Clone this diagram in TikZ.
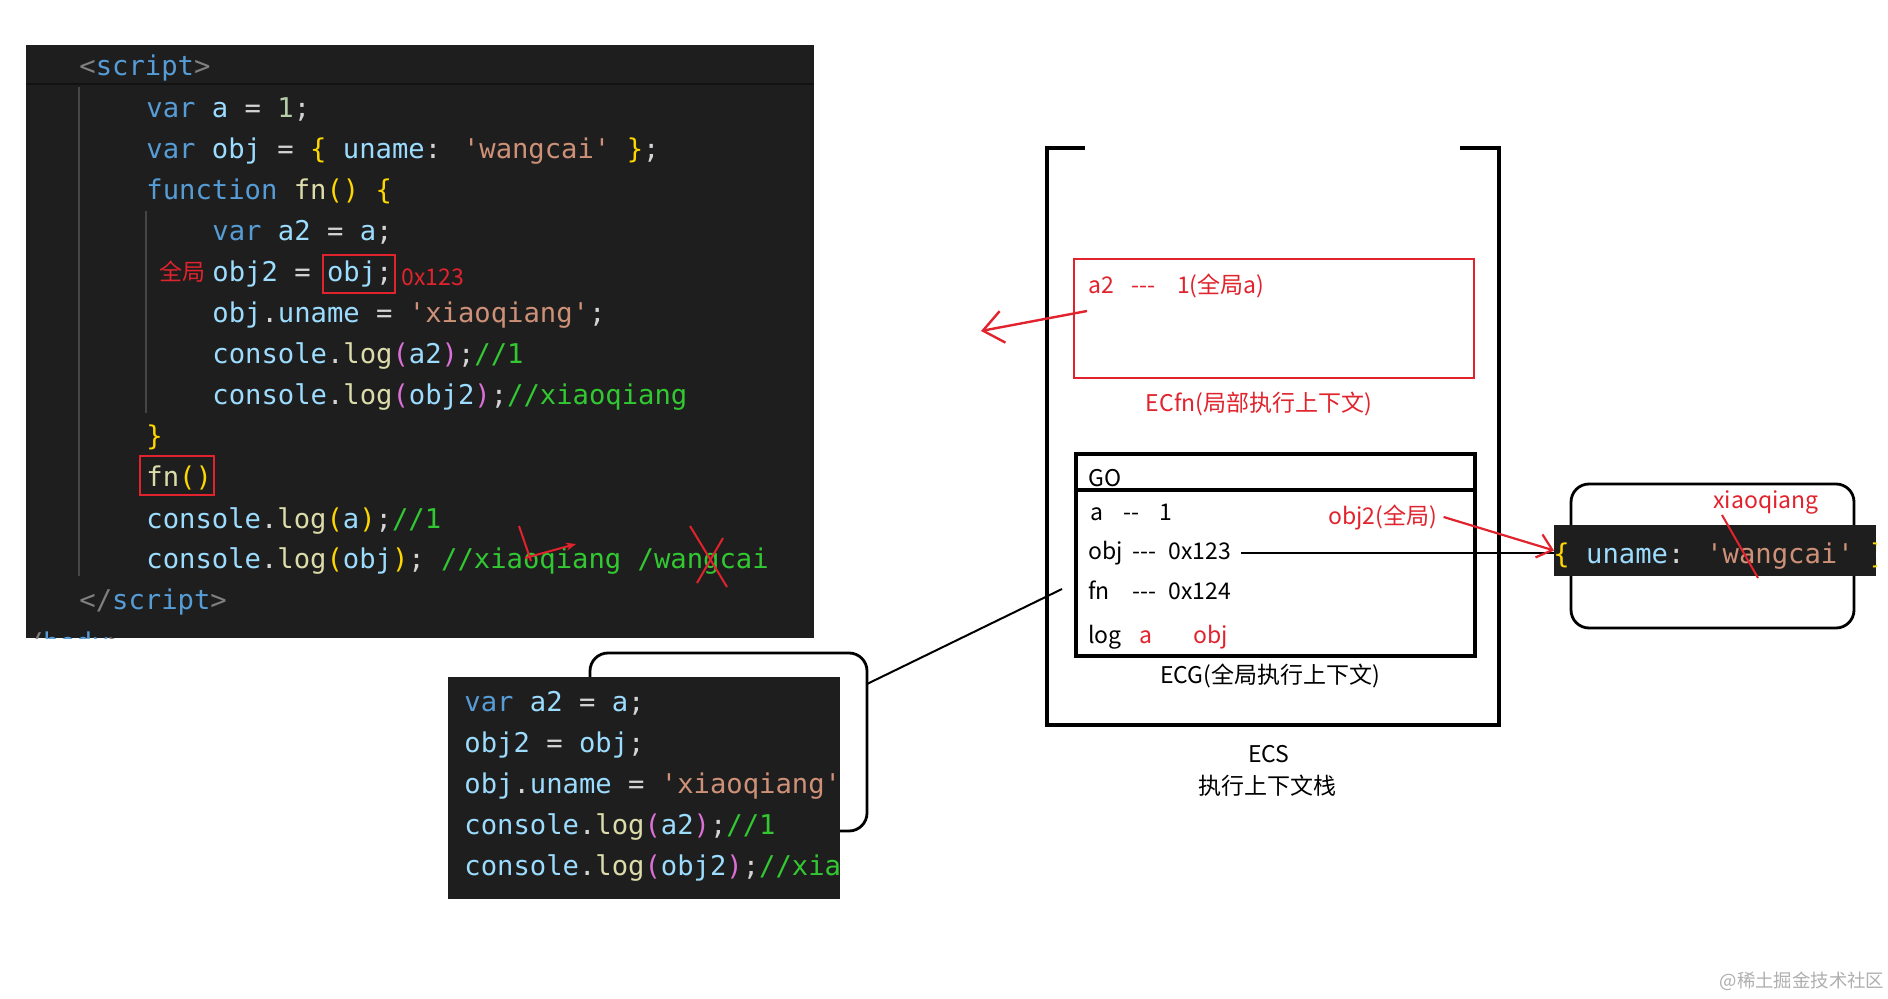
\documentclass[tikz,border=0pt]{standalone}
\usepackage{fontspec}
\usepackage{xcolor}
\usepackage{tikz}
\usetikzlibrary{arrows.meta,calc}
\newfontfamily\codefont{DejaVu Sans Mono}[Ligatures=TeXOff]
\newfontfamily\cjkfont{Noto Sans CJK SC}[Ligatures=TeXOff]
\definecolor{codebg}{RGB}{30,30,30}
\definecolor{codeline}{RGB}{18,18,18}
\definecolor{codetxt}{RGB}{212,212,212}
\definecolor{codekw}{RGB}{86,156,214}
\definecolor{codeid}{RGB}{156,220,254}
\definecolor{codestr}{RGB}{206,145,120}
\definecolor{codenum}{RGB}{181,206,168}
\definecolor{codefn}{RGB}{220,220,170}
\definecolor{codebr}{RGB}{255,215,0}
\definecolor{codepar}{RGB}{218,112,214}
\definecolor{codecmt}{RGB}{50,200,50}
\definecolor{codetag}{RGB}{128,128,128}
\definecolor{guide}{RGB}{70,70,70}
\definecolor{annot}{RGB}{225,35,45}
\definecolor{wmark}{RGB}{175,175,175}
\newcommand{\ckw}[1]{\textcolor{codekw}{#1}}
\newcommand{\cid}[1]{\textcolor{codeid}{#1}}
\newcommand{\cstr}[1]{\textcolor{codestr}{#1}}
\newcommand{\cnum}[1]{\textcolor{codenum}{#1}}
\newcommand{\cfn}[1]{\textcolor{codefn}{#1}}
\newcommand{\cbr}[1]{\textcolor{codebr}{#1}}
\newcommand{\cpar}[1]{\textcolor{codepar}{#1}}
\newcommand{\ccmt}[1]{\textcolor{codecmt}{#1}}
\newcommand{\ctag}[1]{\textcolor{codetag}{#1}}

\begin{document}
\begin{tikzpicture}[x=0.5pt,y=-0.5pt,
  code/.style={anchor=base west, inner sep=0pt, text=codetxt,
               font=\codefont\fontsize{13.6pt}{16pt}\selectfont},
  lbl/.style={inner sep=0pt, font=\cjkfont\fontsize{11.5pt}{14pt}\selectfont},
  redlbl/.style={lbl, text=annot},
  redbox/.style={draw=annot, line width=1.4pt, inner sep=0pt},
  frame/.style={line width=1.6pt},
  roundbox/.style={draw, line width=1.4pt, rounded corners=9pt, inner sep=0pt},
  redptr/.style={annot, line width=1.2pt, -{Straight Barb[length=10pt,width=16pt]}},
  smallptr/.style={annot, line width=1.1pt, -{Straight Barb[length=7pt,width=12pt]}},
  strike/.style={annot, line width=1pt}
]
\fill[white] (0,0) rectangle (1888,999);
\useasboundingbox (0,0) rectangle (1888,999);

% ---- main code block ----
\fill[codebg] (26,45) rectangle (814,638);
\draw[codeline, line width=1.2pt] (26,84) -- (814,84);
\draw[guide, line width=1pt] (79,87) -- (79,576);
\draw[guide, line width=1pt] (146,211) -- (146,413);

\node[code] (c1)  at (79,76)   {\ctag{<}\ckw{script}\ctag{>}};
\node[code] (c2)  at (146,118) {\ckw{var} \cid{a} = \cnum{1};};
\node[code] (c3)  at (146,159) {\ckw{var} \cid{obj} = \cbr{\{} \cid{uname}: \cstr{'wangcai'} \cbr{\}};};
\node[code] (c4)  at (146,200) {\ckw{function} \cfn{fn}\cbr{()} \cbr{\{}};
\node[code] (c5)  at (212,241) {\ckw{var} \cid{a2} = \cid{a};};
\node[code] (c6)  at (212,282) {\cid{obj2} = \cid{obj};};
\node[code] (c7)  at (212,323) {\cid{obj}.\cid{uname} = \cstr{'xiaoqiang'};};
\node[code] (c8)  at (212,364) {\cid{console}.\cfn{log}\cpar{(}\cid{a2}\cpar{)};\ccmt{//1}};
\node[code] (c9)  at (212,405) {\cid{console}.\cfn{log}\cpar{(}\cid{obj2}\cpar{)};\ccmt{//xiaoqiang}};
\node[code] (c10) at (146,446) {\cbr{\}}};
\node[code] (c11) at (146,487) {\cfn{fn}\cbr{()}};
\node[code] (c12) at (146,528) {\cid{console}.\cfn{log}\cbr{(}\cid{a}\cbr{)};\ccmt{//1}};
\node[code] (c13) at (146,568) {\cid{console}.\cfn{log}\cbr{(}\cid{obj}\cbr{)}; \ccmt{//xiaoqiang /wangcai}};
\node[code] (c14) at (79,609)  {\ctag{</}\ckw{script}\ctag{>}};
\begin{scope}
  \clip (26,45) rectangle (814,638);
  \node[code] (c15) at (10,652) {\ctag{</}\ckw{body}\ctag{>}};
\end{scope}

% ---- red marks on the code ----
\node[redlbl] (glob) at (182,272) {全局};
\node[redbox, minimum width=36pt, minimum height=19pt] (objref) at (359,274) {};
\node[redlbl, anchor=base west] (addr) at (401,286) {0x123};
\node[redbox, minimum width=37pt, minimum height=19.5pt] (fncall) at (177,475.5) {};
\draw[strike] (519,526) -- (531,561);
\draw[strike, -{Stealth[length=5pt,width=4pt]}] (525,558) -- (576,544);
\draw[strike] (690,526) -- (727,587);
\draw[strike] (723,538) -- (697,583);

% ---- fn body block ----
\node[roundbox, minimum width=138.5pt, minimum height=89pt] (fnctx) at (728.5,742) {};
\fill[codebg] (448,677) rectangle (840,899);
\begin{scope}
  \clip (448,677) rectangle (840,899);
  \node[code] (f1) at (464,711) {\ckw{var} \cid{a2} = \cid{a};};
  \node[code] (f2) at (464,752) {\cid{obj2} = \cid{obj};};
  \node[code] (f3) at (464,793) {\cid{obj}.\cid{uname} = \cstr{'xiaoqiang'};};
  \node[code] (f4) at (464,834) {\cid{console}.\cfn{log}\cpar{(}\cid{a2}\cpar{)};\ccmt{//1}};
  \node[code] (f5) at (464,875) {\cid{console}.\cfn{log}\cpar{(}\cid{obj2}\cpar{)};\ccmt{//xiaoqiang}};
\end{scope}

% ---- execution context stack ----
\draw[frame] (1085,148) -- (1047,148) -- (1047,725) -- (1499,725) -- (1499,148) -- (1460,148);
\node[redbox, minimum width=200pt, minimum height=59.5pt] (ecfn) at (1274,318.5) {};
\node[redlbl, anchor=base west] (a2val) at (1088,294) {a2\hspace{8.5pt}\makebox[15pt][l]{---}\hspace{8pt}1(全局a)};
\node[redlbl] (ecfnname) at (1259,404) {ECfn(局部执行上下文)};

\node[draw, frame, minimum width=199.5pt, minimum height=101pt, inner sep=0pt] (ecg) at (1275.5,555) {};
\draw[frame] (ecg.west |- 0,490) -- (ecg.east |- 0,490);
\node[lbl, anchor=base west] (gohead) at (1088,487) {GO};
\node[lbl, anchor=base west] (arow) at (1090,520) {a\hspace{10pt}--\hspace{10pt}1};
\node[lbl, anchor=base west] (objrow) at (1088,559) {\makebox[22pt][l]{obj}\makebox[18pt][l]{---}0x123};
\node[lbl, anchor=base west] (fnrow) at (1088,599) {\makebox[22pt][l]{fn}\makebox[18pt][l]{---}0x124};
\node[lbl, anchor=base west] (logrow) at (1088,643) {log};
\node[redlbl, anchor=base west] (loga) at (1139,643) {a};
\node[redlbl, anchor=base west] (logobj) at (1193,643) {obj};
\node[redlbl, anchor=base west] (obj2lbl) at (1328,524) {obj2(全局)};
\node[lbl] (ecgname) at (1270,676) {ECG(全局执行上下文)};
\node[lbl] (ecsname) at (1269,754) {ECS};
\node[lbl] (ecsdesc) at (1267,786) {执行上下文栈};

% ---- heap object ----
\node[roundbox, minimum width=141.5pt, minimum height=72pt] (heap) at (1712.5,556) {};
\fill[codebg] (1554,525) rectangle (1876,576);
\coordinate (heapin) at (1554,550.5);
\begin{scope}
  \clip (1554,525) rectangle (1876,576);
  \node[code] (heaptxt) at (1553,563) {\cbr{\{} \cid{uname}: \cstr{'wangcai'} \cbr{\}}};
\end{scope}
\node[redlbl] (newval) at (1766,502) {xiaoqiang};
\draw[strike] (1722,515) -- (1758,578);

% ---- connectors ----
\coordinate (a2from) at (1087,311);
\coordinate (a2to) at (981,331);
\draw[redptr] (a2from) -- (a2to);
\coordinate (ctxout) at (867,684);
\coordinate (ecgin) at (1062,589);
\draw[line width=1pt] (ctxout) -- (ecgin);
\draw[line width=1pt] ([xshift=5pt]objrow.east) -- (objrow.east -| heapin);
\draw[smallptr] ([xshift=3pt]obj2lbl.east) -- (heapin);

\node[lbl, text=wmark, font=\cjkfont\fontsize{9.2pt}{11pt}\selectfont] (wm) at (1802,981) {@稀土掘金技术社区};
\end{tikzpicture}
\end{document}
